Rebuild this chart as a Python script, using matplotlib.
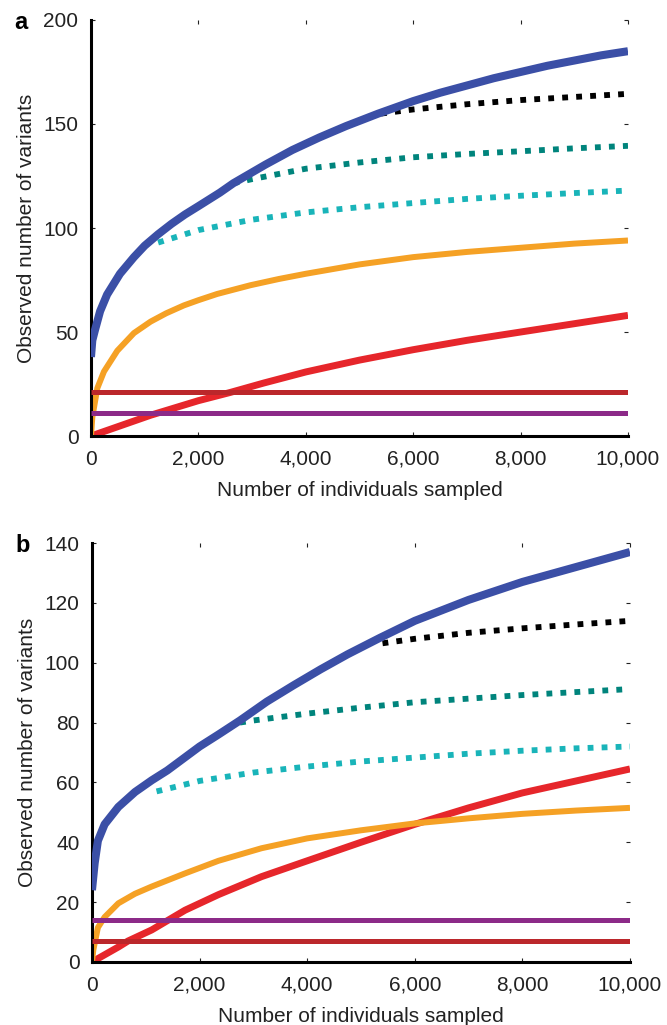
import matplotlib
matplotlib.use("Agg")
import matplotlib.pyplot as plt
from matplotlib.ticker import FuncFormatter

plt.rcParams['font.family'] = ['Liberation Sans', 'DejaVu Sans']

# ---------------- Panel a data ----------------
a_blue_x = [0, 25, 75, 170, 300, 540, 800, 1000, 1250, 1500, 1750, 2000, 2400, 2650,
            3250, 3750, 4250, 4750, 5350, 6000, 6500, 7000, 7500, 8000, 8500, 9000, 9500, 10000]
a_blue_y = [38, 46, 51, 60, 68, 78, 86, 91.5, 97, 102, 106.5, 110.5, 117, 121.5,
            130.5, 137.5, 143.5, 149, 155, 161, 165, 168.5, 172, 175, 178, 180.5, 183, 185]
a_black_x = [5400, 6000, 7000, 8000, 9000, 10000]
a_black_y = [155, 157, 159.5, 161.5, 163, 164.5]
a_teal_x = [2650, 3000, 4000, 5000, 6000, 7000, 8000, 9000, 10000]
a_teal_y = [121.5, 123.5, 128.5, 131.5, 134, 135.6, 136.9, 138.3, 139.5]
a_cyan_x = [1250, 1500, 2000, 3000, 4000, 5000, 6000, 7000, 8000, 9000, 10000]
a_cyan_y = [93, 95, 99, 104, 107.5, 110, 112, 114, 115.5, 116.8, 118]
a_orange_x = [0, 25, 118, 242, 490, 800, 1110, 1400, 1730, 2000, 2350, 2970, 3500,
              4000, 5000, 6000, 7000, 8000, 9000, 10000]
a_orange_y = [0, 9, 23, 31, 41, 49.5, 55, 59, 62.8, 65.3, 68.3, 72.5, 75.5,
              78, 82.5, 86, 88.5, 90.5, 92.5, 94]
a_red_x = [0, 1110, 2000, 2600, 3220, 4000, 5000, 6000, 7000, 8000, 9000, 10000]
a_red_y = [0, 10, 17, 21, 25.5, 30.8, 36.5, 41.5, 46, 50, 54, 58]
a_darkred_level = 21
a_purple_level = 11

# ---------------- Panel b data ----------------
b_blue_x = [0, 50, 110, 235, 490, 800, 1110, 1400, 1730, 2000, 2350, 2750, 3250, 3750,
            4250, 4750, 5350, 6000, 6500, 7000, 7500, 8000, 8500, 9000, 9500, 10000]
b_blue_y = [24, 33, 40.5, 46, 51.8, 56.8, 60.7, 64, 68.4, 72, 76, 80.7, 87, 92.5,
            97.8, 102.8, 108.3, 114, 117.5, 121, 124, 127, 129.5, 132, 134.5, 137]
b_black_x = [5400, 6000, 7000, 8000, 9000, 10000]
b_black_y = [106.5, 108, 110, 111.5, 112.8, 114]
b_teal_x = [2750, 3000, 4000, 5000, 6000, 7000, 8000, 9000, 10000]
b_teal_y = [80, 80.7, 83, 85, 86.8, 88, 89.2, 90.2, 91.2]
b_cyan_x = [1200, 1500, 2000, 3000, 4000, 5000, 6000, 7000, 8000, 9000, 10000]
b_cyan_y = [57, 58.3, 60.5, 63.3, 65.3, 67, 68.3, 69.6, 70.6, 71.4, 72]
b_orange_x = [0, 25, 110, 235, 490, 800, 1110, 1730, 2350, 3150, 4000, 5000,
              6000, 7000, 8000, 9000, 10000]
b_orange_y = [0, 4, 11.5, 15, 19.6, 22.8, 25.2, 29.6, 33.8, 38, 41.3, 44,
              46.3, 48, 49.5, 50.6, 51.5]
b_red_x = [0, 490, 670, 1110, 1420, 1730, 2350, 3150, 4000, 5000, 6000, 7000,
           8000, 9000, 10000]
b_red_y = [0, 5, 7, 10.7, 14, 17.3, 22.5, 28.5, 33.8, 40, 46, 51.5,
           56.5, 60.5, 64.5]
b_darkred_level = 7
b_purple_level = 14

x_extent = [0, 10000]
x_ticks = [0, 2000, 4000, 6000, 8000, 10000]
a_yticks = [0, 50, 100, 150, 200]
b_yticks = [0, 20, 40, 60, 80, 100, 120, 140]
xlabel = "Number of individuals sampled"
ylabel = "Observed number of variants"

C_BLUE = '#3b4fa6'
C_BLACK = '#000000'
C_TEAL = '#00847c'
C_CYAN = '#19b4b9'
C_ORANGE = '#f5a125'
C_RED = '#e6262b'
C_DARKRED = '#bb272b'
C_PURPLE = '#8c2a88'

fig = plt.figure(figsize=(6.67, 10.25), dpi=100)
ax_a = fig.add_axes([0.1364, 0.5746, 0.8051, 0.4059])
ax_b = fig.add_axes([0.1379, 0.0615, 0.8066, 0.4087])

FS = 15


def draw(ax, d, yticks, ymax, letter):
    ax.plot(d['red'][0], d['red'][1], color=C_RED, lw=5.0, solid_capstyle='butt',
            solid_joinstyle='round', zorder=2)
    ax.plot(d['orange'][0], d['orange'][1], color=C_ORANGE, lw=4.3, solid_capstyle='butt',
            solid_joinstyle='round', zorder=2)
    ax.hlines(d['darkred'], x_extent[0], x_extent[1], color=C_DARKRED, lw=3.6, zorder=3)
    ax.hlines(d['purple'], x_extent[0], x_extent[1], color=C_PURPLE, lw=3.6, zorder=3)
    for key, col in (('cyan', C_CYAN), ('teal', C_TEAL), ('black', C_BLACK)):
        ax.plot(d[key][0], d[key][1], color=col, lw=4.2, dashes=(1.0, 1.4),
                dash_capstyle='butt', zorder=4)
    ax.plot(d['blue'][0], d['blue'][1], color=C_BLUE, lw=5.8, solid_capstyle='butt',
            solid_joinstyle='round', zorder=5)

    ax.set_xlim(x_extent[0], x_extent[1])
    ax.set_ylim(0, ymax)
    ax.set_xticks(x_ticks)
    ax.set_yticks(yticks)
    ax.xaxis.set_major_formatter(FuncFormatter(lambda v, p: f"{int(v):,}"))
    for s in ('top', 'right'):
        ax.spines[s].set_visible(False)
    for s in ('left', 'bottom'):
        ax.spines[s].set_linewidth(2.2)
        ax.spines[s].set_color('black')
    ax.tick_params(axis='x', which='both', direction='in', length=3, width=0.8,
                   top=True, labelsize=FS, pad=10, colors='#222222')
    ax.tick_params(axis='y', which='both', direction='in', length=3, width=0.8,
                   right=True, labelsize=FS, pad=9, colors='#222222')
    for t in ax.xaxis.get_major_ticks():
        t.tick2line.set_color('#888888')
    for t in ax.yaxis.get_major_ticks():
        t.tick2line.set_color('#888888')
    ax.set_xlabel(xlabel, fontsize=FS, labelpad=9, color='#222222')
    ax.set_ylabel(ylabel, fontsize=FS, labelpad=5, color='#222222')
    ax.text(-0.142, 0.995, letter, transform=ax.transAxes, fontsize=17,
            fontweight='bold', ha='left', va='center')


da = dict(blue=(a_blue_x, a_blue_y), black=(a_black_x, a_black_y),
          teal=(a_teal_x, a_teal_y), cyan=(a_cyan_x, a_cyan_y),
          orange=(a_orange_x, a_orange_y), red=(a_red_x, a_red_y),
          darkred=a_darkred_level, purple=a_purple_level)
db = dict(blue=(b_blue_x, b_blue_y), black=(b_black_x, b_black_y),
          teal=(b_teal_x, b_teal_y), cyan=(b_cyan_x, b_cyan_y),
          orange=(b_orange_x, b_orange_y), red=(b_red_x, b_red_y),
          darkred=b_darkred_level, purple=b_purple_level)

draw(ax_a, da, a_yticks, 200, 'a')
draw(ax_b, db, b_yticks, 140, 'b')

fig.savefig('out.png', dpi=100)
